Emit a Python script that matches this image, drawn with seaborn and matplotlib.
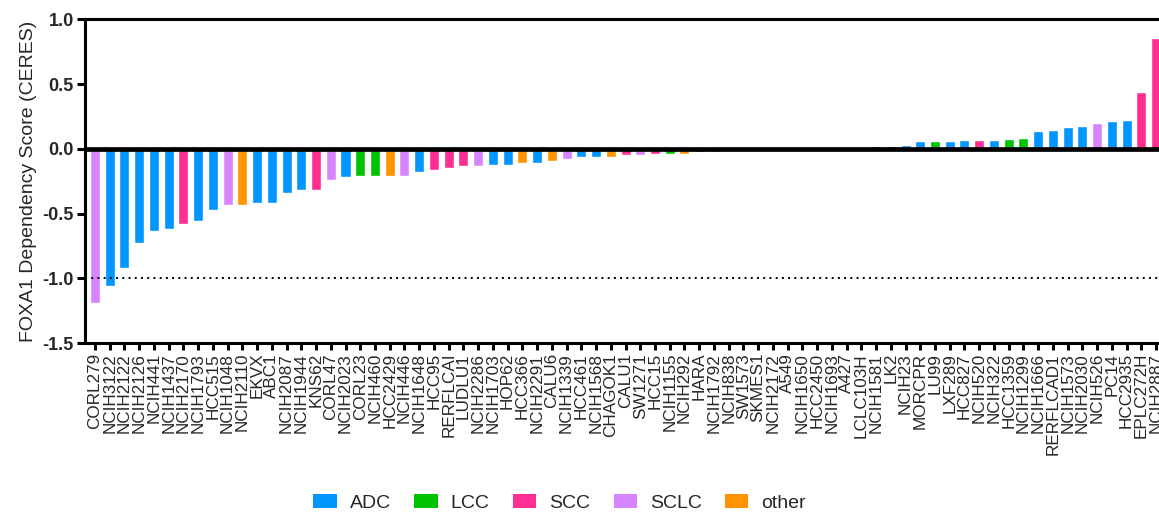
import matplotlib
matplotlib.use("Agg")
import matplotlib.pyplot as plt
from matplotlib.patches import Patch
import seaborn as sns
import pandas as pd

# Cell lines, ordered by FOXA1 dependency score
cell_lines = [
    "CORL279", "NCIH3122", "NCIH2122", "NCIH2126", "NCIH441", "NCIH1437", "NCIH2170",
    "NCIH1793", "HCC515", "NCIH1048", "NCIH2110", "EKVX", "ABC1", "NCIH2087",
    "NCIH1944", "KNS62", "CORL47", "NCIH2023", "CORL23", "NCIH460", "HCC2429",
    "NCIH446", "NCIH1648", "HCC95", "RERFLCAI", "LUDLU1", "NCIH2286", "NCIH1703",
    "HOP62", "HCC366", "NCIH2291", "CALU6", "NCIH1339", "HCC461", "NCIH1568",
    "CHAGOK1", "CALU1", "SW1271", "HCC15", "NCIH1155", "NCIH292", "HARA",
    "NCIH1792", "NCIH838", "SW1573", "SKMES1", "NCIH2172", "A549", "NCIH1650",
    "HCC2450", "NCIH1693", "A427", "LCLC103H", "NCIH1581", "LK2", "NCIH23",
    "MORCPR", "LU99", "LXF289", "HCC827", "NCIH520", "NCIH322", "HCC1359",
    "NCIH1299", "NCIH1666", "RERFLCAD1", "NCIH1573", "NCIH2030", "NCIH526",
    "PC14", "HCC2935", "EPLC272H", "NCIH2887",
]

scores = [
    -1.19, -1.06, -0.92, -0.73, -0.63, -0.62, -0.58,
    -0.56, -0.47, -0.43, -0.43, -0.42, -0.415, -0.34,
    -0.32, -0.32, -0.24, -0.22, -0.21, -0.21, -0.21,
    -0.205, -0.175, -0.16, -0.145, -0.135, -0.135, -0.12,
    -0.12, -0.11, -0.105, -0.09, -0.08, -0.065, -0.065,
    -0.065, -0.05, -0.05, -0.04, -0.035, -0.035, -0.025,
    -0.025, -0.012, -0.01, -0.008, -0.005, -0.003, -0.002,
    0.002, 0.004, 0.006, 0.008, 0.025, 0.02, 0.033,
    0.065, 0.065, 0.065, 0.073, 0.073, 0.073, 0.08,
    0.088, 0.135, 0.143, 0.166, 0.174, 0.198,
    0.214, 0.22, 0.44, 0.855,
]

subtypes = [
    "SCLC", "ADC", "ADC", "ADC", "ADC", "ADC", "SCC",
    "ADC", "ADC", "SCLC", "other", "ADC", "ADC", "ADC",
    "ADC", "SCC", "SCLC", "ADC", "LCC", "LCC", "other",
    "SCLC", "ADC", "SCC", "SCC", "SCC", "SCLC", "ADC",
    "ADC", "other", "ADC", "other", "SCLC", "ADC", "ADC",
    "other", "SCC", "SCLC", "SCC", "LCC", "other", "SCC",
    "ADC", "ADC", "ADC", "SCC", "other", "ADC", "ADC",
    "SCC", "ADC", "ADC", "LCC", "LCC", "SCC", "ADC",
    "ADC", "LCC", "ADC", "ADC", "SCC", "ADC", "LCC",
    "LCC", "ADC", "ADC", "ADC", "ADC", "SCLC",
    "ADC", "ADC", "SCC", "SCC",
]

subtype_order = ["ADC", "LCC", "SCC", "SCLC", "other"]
subtype_colors = {
    "ADC": "#0096FF",
    "LCC": "#00C300",
    "SCC": "#FF2E92",
    "SCLC": "#D685FF",
    "other": "#FF9300",
}

df = pd.DataFrame({"cell_line": cell_lines, "score": scores, "subtype": subtypes})

sns.set_theme(style="white")
plt.rcParams["font.family"] = ["Liberation Sans", "DejaVu Sans"]

fig = plt.figure(figsize=(11.59, 5.13), dpi=100)
ax = fig.add_axes([0.0733, 0.331, 0.9267, 0.631])

sns.barplot(
    data=df, x="cell_line", y="score", hue="subtype", hue_order=subtype_order,
    palette=subtype_colors, dodge=False, width=0.68, saturation=1,
    legend=False, ax=ax,
)

ax.set_xlim(-0.68, 72.2)
ax.set_ylim(-1.5, 1.0)
ax.set_yticks([-1.5, -1.0, -0.5, 0.0, 0.5, 1.0])
ax.set_yticklabels(["-1.5", "-1.0", "-0.5", "0.0", "0.5", "1.0"], fontweight="bold", fontsize=13)
ax.set_xticks(range(len(cell_lines)))
ax.set_xticklabels(cell_lines, rotation=90, fontsize=12.3)

ax.axhline(0, color="black", lw=3.4, zorder=5)
ax.axhline(-1.0, color="black", lw=1.4, ls=(0, (1, 2.2)), zorder=4)

for side in ["left", "bottom", "top"]:
    ax.spines[side].set_visible(True)
    ax.spines[side].set_color("black")
    ax.spines[side].set_linewidth(2.2)
ax.spines["right"].set_visible(False)

ax.tick_params(axis="y", direction="out", length=6, width=2.2, color="black", pad=2, left=True)
ax.tick_params(axis="x", direction="out", length=5, width=2.2, color="black", pad=2, bottom=True)

ax.set_xlabel("")
ax.set_ylabel("FOXA1 Dependency Score (CERES)", fontsize=14, labelpad=4)

handles = [Patch(facecolor=subtype_colors[s], edgecolor="none", label=s) for s in subtype_order]
fig.legend(
    handles=handles, loc="center", bbox_to_anchor=(0.483, 0.02), ncol=5,
    frameon=False, fontsize=14, handlelength=1.2, handleheight=0.77,
    handletextpad=0.67, columnspacing=1.2,
)

fig.savefig("out.png", dpi=100)
